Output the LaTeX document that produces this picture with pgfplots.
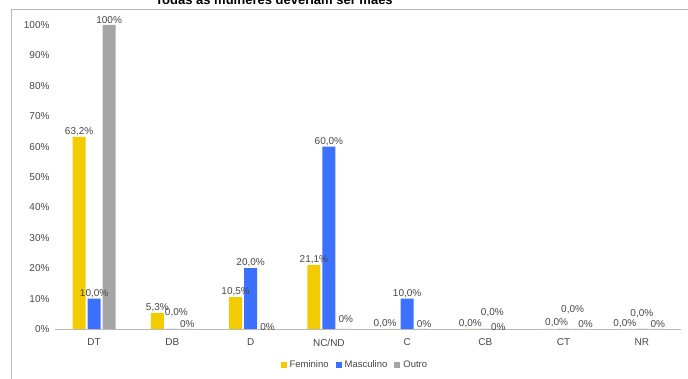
\documentclass[border=0pt]{standalone}
\usepackage{pgfplots}
\pgfplotsset{compat=1.18}
\usepackage{fontspec}
\setmainfont{Liberation Sans}
\definecolor{fem}{RGB}{242,204,0}
\definecolor{masc}{RGB}{60,112,255}
\definecolor{outro}{RGB}{165,165,165}
\definecolor{txt}{RGB}{70,70,70}
\definecolor{frame}{RGB}{185,185,185}
\begin{document}
\begin{tikzpicture}
\begin{axis}[
  scale only axis, width=626pt, height=304pt,
  ymin=0, ymax=100, xmin=-0.5, xmax=7.5,
  ybar, bar width=13pt,
  axis x line*=bottom, axis y line*=left,
  x axis line style={draw=frame},
  y axis line style={draw=none},
  tick style={draw=none},
  xtick={0,...,7},
  xticklabels={DT,DB,D,NC/ND,C,CB,CT,NR},
  ytick={0,10,...,100},
  yticklabel={\pgfmathprintnumber{\tick}\%},
  /pgf/number format/assume math mode=true,
  ticklabel style={font=\fontsize{10}{12}\selectfont,text=txt},
  xticklabel style={yshift=-2pt},
  yticklabel style={xshift=-2pt},
  point meta=explicit symbolic,
  nodes near coords={\pgfplotspointmeta\%},
  visualization depends on={\thisrow{dx} \as \lx},
  visualization depends on={\thisrow{dy} \as \ly},
  every node near coord/.append style={font=\fontsize{10}{12}\selectfont,text=txt,xshift=\lx pt,yshift=\ly pt,inner sep=1pt},
  legend style={at={(0.479,-0.118)},anchor=center,draw=none,legend columns=3,font=\fontsize{9.5}{11}\selectfont,text=txt,
    /tikz/every even column/.append style={column sep=5pt},
    /tikz/every odd column/.append style={column sep=1pt}},
  legend image code/.code={\fill[#1] (0pt,-3pt) rectangle (6pt,3pt);},
]
\addplot[fill=fem,draw=none] table[meta=lab] {
x y lab dx dy
0 63.2 63,2 0 0
1 5.3 5,3 0 0
2 10.5 10,5 0 0
3 21.1 21,1 0 0
4 0 0,0 -7 0
5 0 0,0 0 0
6 0 0,0 8 1
7 0 0,0 -2 0
};
\addplot[fill=masc,draw=none] table[meta=lab] {
x y lab dx dy
0 10 10,0 0 0
1 0 0,0 4 11
2 20 20,0 0 0
3 60 60,0 0 0
4 10 10,0 0 0
5 0 0,0 7 11
6 0 0,0 9 14
7 0 0,0 0 10
};
\addplot[fill=outro,draw=none] table[meta=lab] {
x y lab dx dy
0 100 100 0 0
1 0 0 0 0
2 0 0 2 -3
3 0 0 2 5
4 0 0 2 0
5 0 0 -2 -3
6 0 0 7 0
7 0 0 1 0
};
\legend{Feminino,Masculino,Outro}
\coordinate (O) at (rel axis cs:0,0);
\end{axis}
\pgfresetboundingbox
\path[use as bounding box] ([shift={(-55pt,-50pt)}]O) rectangle ([shift={(633pt,329pt)}]O);
\draw[frame,line width=0.8pt] ([shift={(-44pt,-50pt)}]O) -- ([shift={(-44pt,320pt)}]O) -- ([shift={(633pt,320pt)}]O);
\node[anchor=base,font=\bfseries\fontsize{13}{15}\selectfont,text=black,inner sep=0pt] at ([shift={(219pt,324pt)}]O) {Todas as mulheres deveriam ser mães};
\end{tikzpicture}
\end{document}
